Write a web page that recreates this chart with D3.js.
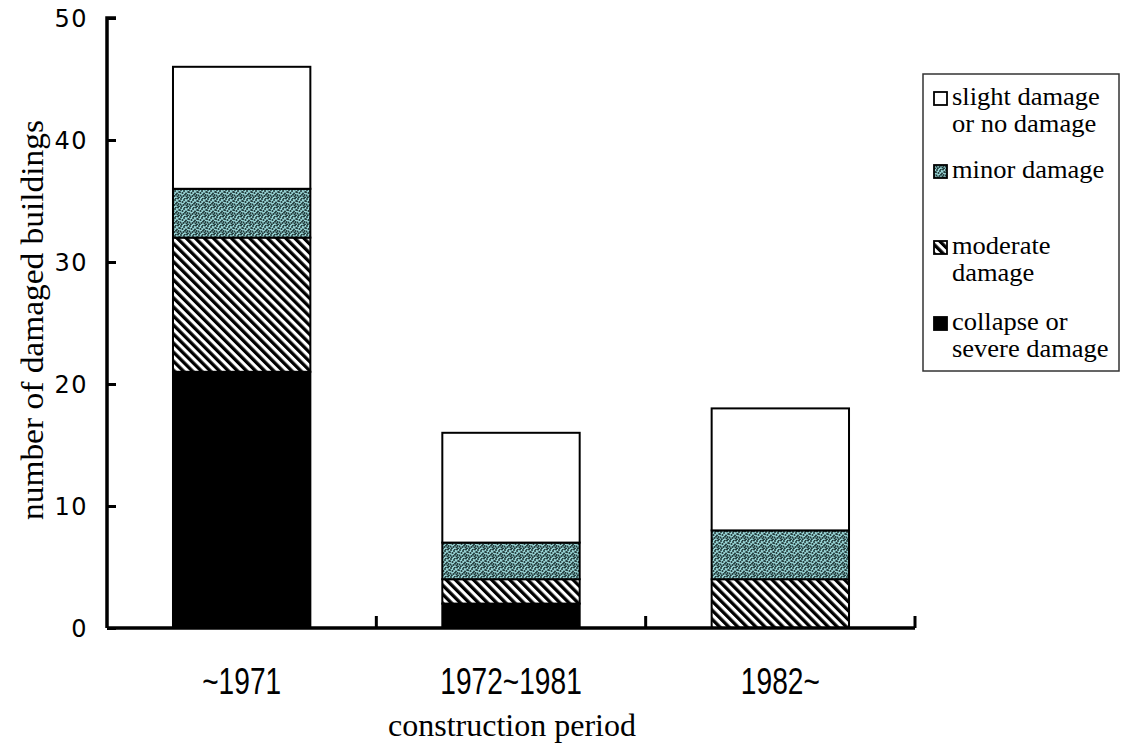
<!DOCTYPE html>
<html>
<head>
<meta charset="utf-8">
<script src="https://cdn.jsdelivr.net/npm/d3@7"></script>
<style>
  body { margin: 0; background: #fff; }
  svg { display: block; }
  .serif { font-family: "Liberation Serif", "DejaVu Serif", serif; }
</style>
</head>
<body>
<div id="chart"></div>
<script>
// data
var periods = ["~1971", "1972~1981", "1982~"];
var damageKeys = ["collapse", "moderate", "minor", "slight"];
var collapseVals = [21, 2, 0];
var moderateVals = [11, 2, 4];
var minorVals = [4, 3, 4];
var slightVals = [10, 9, 10];
var yTicks = [0, 10, 20, 30, 40, 50];
var legendLabels = [
    ["slight damage", "or no damage"],
    ["minor damage"],
    ["moderate", "damage"],
    ["collapse or", "severe damage"]
];
var legendKeys = ["slight", "minor", "moderate", "collapse"];

var width = 1122, height = 749;

var table = periods.map(function (p, i) {
    return { period: p, collapse: collapseVals[i], moderate: moderateVals[i], minor: minorVals[i], slight: slightVals[i] };
});

var svg = d3.select("#chart").append("svg")
    .attr("width", width)
    .attr("height", height);

// patterns
var defs = svg.append("defs");

var hatch = defs.append("pattern")
    .attr("id", "hatch")
    .attr("patternUnits", "userSpaceOnUse")
    .attr("width", 6.4).attr("height", 6.4)
    .attr("patternTransform", "rotate(-45)");
hatch.append("rect").attr("width", 6.4).attr("height", 6.4).attr("fill", "#fff");
hatch.append("rect").attr("width", 3.3).attr("height", 6.4).attr("fill", "#000");

// speckled teal fill
var speck = defs.append("pattern")
    .attr("id", "speck")
    .attr("patternUnits", "userSpaceOnUse")
    .attr("width", 9).attr("height", 9);
speck.append("rect").attr("width", 9).attr("height", 9).attr("fill", "#98d3d4");
var speckDots = [[1, 1], [4, 2], [7, 0.5], [2.5, 4], [6, 4.5], [8.2, 3], [0.5, 6.5], [3.5, 7], [6.5, 7.5], [5, 5.8], [1.8, 8.3], [8, 8.5], [4.8, 0.2], [0, 3.2], [7.6, 6]];
speck.selectAll("circle")
    .data(speckDots)
    .join("circle")
    .attr("cx", function (d) { return d[0] })
    .attr("cy", function (d) { return d[1] })
    .attr("r", 1)
    .attr("fill", "#1f3838");

var fills = { collapse: "#000", moderate: "url(#hatch)", minor: "url(#speck)", slight: "#fff" };

// scales
var x = d3.scaleBand()
    .domain(periods)
    .range([107, 915])
    .paddingInner(0.49)
    .paddingOuter(0.245);

var y = d3.scaleLinear()
    .domain([0, 50])
    .range([628, 18]);

var stack = d3.stack().keys(damageKeys);
var series = stack(table);

// bars
svg.append("g")
    .selectAll("g")
    .data(series)
    .join("g")
    .attr("fill", function (d) { return fills[d.key] })
    .selectAll("rect")
    .data(function (d) { return d.filter(function (v) { return v[1] > v[0] }) })
    .join("rect")
    .attr("x", function (d) { return x(d.data.period) })
    .attr("width", x.bandwidth())
    .attr("y", function (d) { return y(d[1]) })
    .attr("height", function (d) { return y(d[0]) - y(d[1]) })
    .attr("stroke", "#000")
    .attr("stroke-width", 2);

// y axis
var yAxis = svg.append("g")
    .attr("transform", "translate(107,0)")
    .call(d3.axisRight(y).tickValues(yTicks).tickSize(9).tickFormat(""));
yAxis.select(".domain").attr("stroke-width", 3.5).attr("d", "M9," + y(50) + "H0V" + y(0));
yAxis.selectAll(".tick line").attr("stroke-width", 3);

svg.append("g")
    .selectAll("text")
    .data(yTicks)
    .join("text")
    .attr("x", 88)
    .attr("y", function (d) { return y(d) })
    .attr("dy", "0.36em")
    .attr("text-anchor", "end")
    .attr("font-family", "DejaVu Sans, sans-serif")
    .attr("font-size", 24)
    .style("letter-spacing", "1.5px")
    .text(function (d) { return d });

// x axis
var xEdges = periods.map(function (p) { return x(p) + x.bandwidth() + x.step() * x.paddingInner() / 2 });
var xAxis = svg.append("g");
xAxis.append("line")
    .attr("x1", 107).attr("x2", x.range()[1])
    .attr("y1", y(0)).attr("y2", y(0))
    .attr("stroke", "#000").attr("stroke-width", 3.5);
xAxis.selectAll("line.tick")
    .data(xEdges)
    .join("line")
    .attr("class", "tick")
    .attr("x1", function (d) { return d }).attr("x2", function (d) { return d })
    .attr("y1", y(0)).attr("y2", y(0) - 12)
    .attr("stroke", "#000").attr("stroke-width", 3);

// condensed period labels
svg.append("g")
    .selectAll("text")
    .data(periods)
    .join("text")
    .attr("transform", function (d) { return "translate(" + (x(d) + x.bandwidth() / 2) + ",694) scale(0.76,1)" })
    .attr("text-anchor", "middle")
    .attr("font-family", "Liberation Sans, Arial, sans-serif")
    .attr("font-size", 37)
    .text(function (d) { return d });

// axis titles
svg.append("text")
    .attr("class", "serif")
    .attr("x", 512)
    .attr("y", 736)
    .attr("text-anchor", "middle")
    .attr("font-size", 32)
    .text("construction period");

svg.append("text")
    .attr("class", "serif")
    .attr("transform", "translate(43,320) rotate(-90)")
    .attr("text-anchor", "middle")
    .attr("font-size", 31)
    .attr("textLength", 400)
    .attr("lengthAdjust", "spacingAndGlyphs")
    .text("number of damaged buildings");

// legend
var legend = svg.append("g");
legend.append("rect")
    .attr("x", 923).attr("y", 74)
    .attr("width", 196).attr("height", 297)
    .attr("fill", "none")
    .attr("stroke", "#333")
    .attr("stroke-width", 1.5);

var legendBase = [105, 178, 254, 330];
var item = legend.selectAll("g.item")
    .data(legendKeys)
    .join("g")
    .attr("class", "item")
    .attr("transform", function (d, i) { return "translate(0," + legendBase[i] + ")" });

item.append("rect")
    .attr("x", 934).attr("y", -13)
    .attr("width", 13).attr("height", 13)
    .attr("fill", function (d) { return fills[d] })
    .attr("stroke", "#000")
    .attr("stroke-width", 1.8);

// each legend line is its own text element, tight leading as in the scan
item.selectAll("text")
    .data(function (d, i) { return legendLabels[i] })
    .join("text")
    .attr("class", "serif")
    .attr("font-size", 25)
    .attr("transform", "scale(1.06,1)")
    .attr("x", 952 / 1.06)
    .attr("y", function (d, j) { return j * 27 })
    .text(function (d) { return d });
</script>
</body>
</html>
